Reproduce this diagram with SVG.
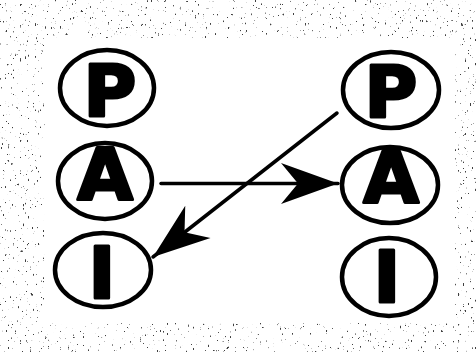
<svg xmlns="http://www.w3.org/2000/svg" width="476" height="352" viewBox="0 0 476 352">
  <style>
    .ring { fill: none; stroke: #000; stroke-width: 4.5; }
    .lt { font-family: "DejaVu Sans", "Liberation Sans", sans-serif; font-weight: bold; font-size: 72px; fill: #000; stroke: #000; stroke-width: 3; stroke-linejoin: round; text-anchor: middle; }
    .conn { fill: none; stroke: #000; stroke-width: 3.5; stroke-linecap: round; }
  </style>
  <defs>
    <filter id="speckle" filterUnits="userSpaceOnUse" x="0" y="0" width="476" height="352">
      <feTurbulence type="fractalNoise" baseFrequency="0.6 0.3" numOctaves="2" seed="3" result="n"/>
      <feColorMatrix in="n" type="matrix" values="0 0 0 0 0.05  0 0 0 0 0.05  0 0 0 0 0.05  14 0 0 0 -9.9"/>
    </filter>
    <marker id="head" markerUnits="userSpaceOnUse" markerWidth="62" markerHeight="46" viewBox="-60 -23 62 46" refX="0" refY="0" orient="auto">
      <path d="M0,0 L-57,-20.5 L-40,0 L-57,20.5 Z" fill="#000"/>
    </marker>
  </defs>
  <rect width="476" height="352" fill="#fff"/>
  <rect width="476" height="352" fill="#000" filter="url(#speckle)"/>
  <rect x="45" y="38" width="410" height="285" fill="#fff"/>

  <g id="connectors">
    <path class="conn" d="M161,183.5 L338,183.5" marker-end="url(#head)"/>
    <path class="conn" d="M337,113 L153,257" marker-end="url(#head)"/>
  </g>

  <g id="left-P">
    <ellipse class="ring" cx="107" cy="88" rx="47" ry="38"/>
    <text class="lt" x="110" y="116">P</text>
  </g>
  <g id="left-A">
    <ellipse class="ring" cx="105" cy="181" rx="47" ry="38"/>
    <text class="lt" x="105" y="199">A</text>
  </g>
  <g id="left-I">
    <ellipse class="ring" cx="103" cy="270" rx="48" ry="37"/>
    <text class="lt" x="102" y="298">I</text>
  </g>
  <g id="right-P">
    <ellipse class="ring" cx="391" cy="90" rx="48" ry="38"/>
    <text class="lt" x="391" y="117">P</text>
  </g>
  <g id="right-A">
    <ellipse class="ring" cx="390" cy="185" rx="48" ry="38"/>
    <text class="lt" x="391" y="202">A</text>
  </g>
  <g id="right-I">
    <ellipse class="ring" cx="389" cy="277" rx="47" ry="39"/>
    <text class="lt" x="387" y="302">I</text>
  </g>
</svg>
